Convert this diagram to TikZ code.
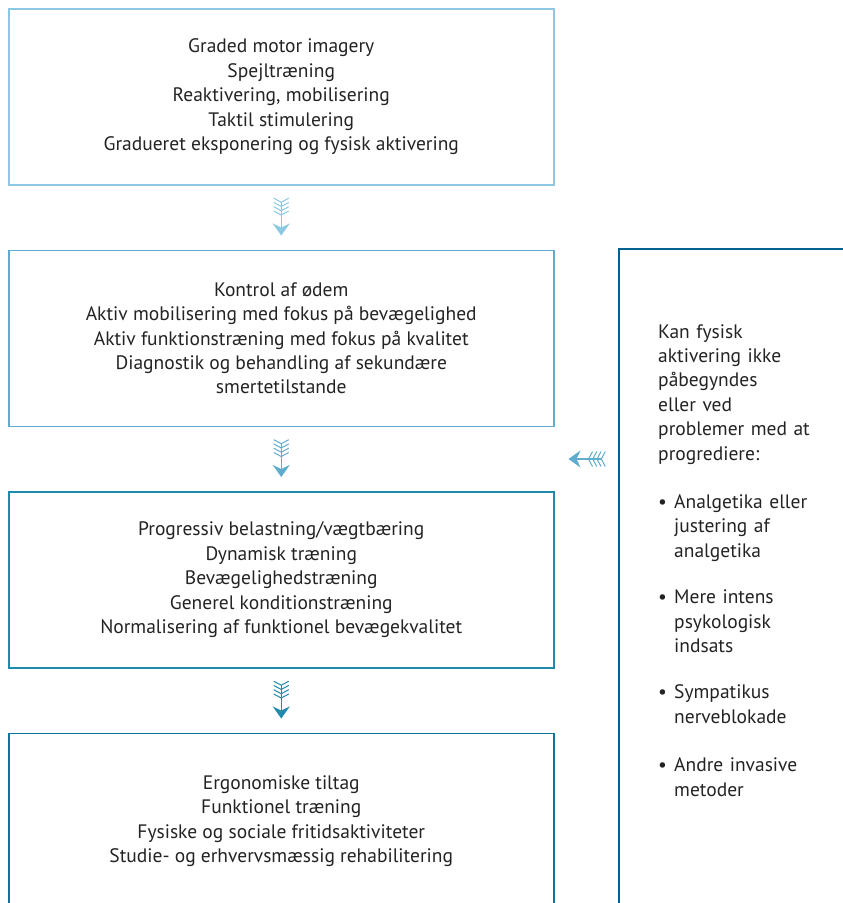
\documentclass[tikz,border=0pt]{standalone}
\usepackage{fontspec}
\setmainfont{PT Sans}
\usepackage{tikz}
\usetikzlibrary{arrows.meta,positioning}
\definecolor{StepA}{RGB}{140,200,225}
\definecolor{StepB}{RGB}{95,172,205}
\definecolor{StepC}{RGB}{30,138,172}
\definecolor{StepD}{RGB}{10,118,158}
\definecolor{SideBox}{RGB}{0,98,145}
\definecolor{Ink}{RGB}{35,35,35}

\begin{document}
\begin{tikzpicture}[x=1pt,y=1pt,
  stepbox/.style={draw=#1,line width=1.5pt,minimum width=545pt,minimum height=176pt,
    align=center,text=Ink,inner sep=0pt,font=\fontsize{19.5}{24.4}\selectfont},
  feather/.style={draw=#1,line width=1.5pt,shorten <=13pt,shorten >=14pt,
    arrows={{Straight Barb[reversed,length=4pt,width=15pt,line width=1pt,sep=-0.8pt]
      Straight Barb[reversed,length=4pt,width=15pt,line width=1pt,sep=-0.8pt]
      Straight Barb[reversed,length=4pt,width=15pt,line width=1pt,sep=-0.8pt]
      Straight Barb[reversed,length=4pt,width=15pt,line width=1pt,sep=-0.8pt]}-{Stealth[length=12pt,width=17pt,inset=4pt]}}}]
\clip (0,0) rectangle (843,-903);

% phases
\node[stepbox=StepA,anchor=north west] (b1) at (8,-8)
  {Graded motor imagery\\Spejltræning\\Reaktivering, mobilisering\\Taktil stimulering\\Gradueret eksponering og fysisk aktivering};
\node[stepbox=StepB,below=64pt of b1] (b2)
  {Kontrol af ødem\\Aktiv mobilisering med fokus på bevægelighed\\Aktiv funktionstræning med fokus på kvalitet\\Diagnostik og behandling af sekundære\\smertetilstande};
\node[stepbox=StepC,below=64pt of b2] (b3)
  {Progressiv belastning/vægtbæring\\Dynamisk træning\\Bevægelighedstræning\\Generel konditionstræning\\Normalisering af funktionel bevægekvalitet};
\node[stepbox=StepD,below=64pt of b3] (b4)
  {Ergonomiske tiltag\\Funktionel træning\\Fysiske og sociale fritidsaktiviteter\\Studie- og erhvervsmæssig rehabilitering};

\draw[feather=StepA] (b1) -- (b2);
\draw[feather=StepB] (b2) -- (b3);
\draw[feather=StepC] (b3) -- (b4);

% side box
\node[draw=SideBox,line width=1.5pt,anchor=north west,minimum width=300pt,minimum height=700pt] (side) at (618,-248) {};
\node[anchor=north west,text width=200pt,align=left,inner sep=0pt,text=Ink,font=\fontsize{19.5}{24.4}\selectfont] (sidetext)
  at ([xshift=40pt,yshift=-76pt]side.north west)
  {Kan fysisk\\aktivering ikke\\påbegyndes\\eller ved\\problemer med at\\progrediere:\\[24pt]
   \makebox[16pt][l]{\textbullet}Analgetika eller\\\hspace*{16pt}justering af\\\hspace*{16pt}analgetika\\[22pt]
   \makebox[16pt][l]{\textbullet}Mere intens\\\hspace*{16pt}psykologisk\\\hspace*{16pt}indsats\\[22pt]
   \makebox[16pt][l]{\textbullet}Sympatikus\\\hspace*{16pt}nerveblokade\\[24pt]
   \makebox[16pt][l]{\textbullet}Andre invasive\\\hspace*{16pt}metoder};

\path (b2.south) -- (b3.north) coordinate[midway] (gap);
\draw[feather=StepB] (side.west |- gap) -- (b2.east |- gap);
\end{tikzpicture}
\end{document}
